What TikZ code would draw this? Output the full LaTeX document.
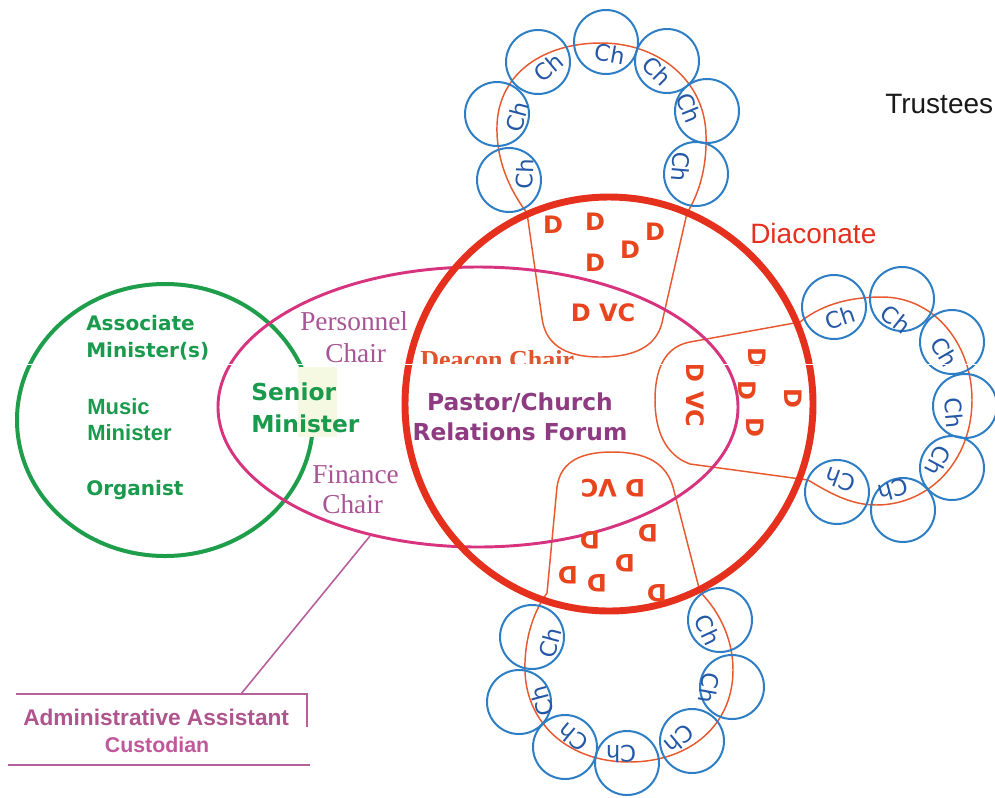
\documentclass[tikz,border=0pt]{standalone}
\usepackage{fontspec}
\newfontfamily\dvs{DejaVu Sans}
\newfontfamily\lsans{Liberation Sans}
\newfontfamily\lserif{Liberation Serif}
\definecolor{bigred}{HTML}{E6301E}
\definecolor{lobecol}{HTML}{E8582E}
\definecolor{dcol}{HTML}{E8441E}
\definecolor{chblue}{HTML}{2E7EC6}
\definecolor{chtext}{HTML}{2457A5}
\definecolor{grn}{HTML}{1E9E4A}
\definecolor{grntxt}{HTML}{1A9A4C}
\definecolor{mag}{HTML}{D8337E}
\definecolor{purp}{HTML}{8E3B82}
\definecolor{perstxt}{HTML}{A85595}
\definecolor{deacontxt}{HTML}{E0542E}
\definecolor{admtxt}{HTML}{B0548E}
\definecolor{custtxt}{HTML}{C0589C}
\definecolor{admln}{HTML}{B8609C}
\definecolor{pale}{HTML}{F5F9E1}
\begin{document}
\begin{tikzpicture}[x=0.75pt,y=-0.75pt,
  lobe/.style={draw=lobecol, line width=1.1pt},
  chring/.style={draw=chblue, line width=1.5pt},
  chtxt/.style={text=chtext, font=\dvs\fontsize{17}{17}\selectfont, inner sep=0pt},
  dtxt/.style={text=dcol, font=\dvs\bfseries\fontsize{18}{18}\selectfont, inner sep=0pt},
  grnV/.style={text=grntxt, font=\dvs\bfseries\fontsize{15}{15}\selectfont, inner sep=0pt, anchor=base west},
  grnA/.style={text=grntxt, font=\lsans\bfseries\fontsize{16.5}{16.5}\selectfont, inner sep=0pt, anchor=base west},
  senior/.style={text=grntxt, font=\dvs\bfseries\fontsize{17.5}{17.5}\selectfont, inner sep=0pt, anchor=base west},
  pers/.style={text=perstxt, font=\lserif\fontsize{20.5}{20.5}\selectfont, inner sep=0pt, anchor=base west},
  forum/.style={text=purp, font=\dvs\bfseries\fontsize{17.5}{17.5}\selectfont, inner sep=0pt, anchor=base},
  admline/.style={draw=admln, line width=1.2pt}
]
\useasboundingbox (0,0) rectangle (995,797);
\fill[white] (0,0) rectangle (995,797);

% lobes and rings of the three deacon groups
\draw[lobe] (600,357) .. controls (562,357) and (545,342) .. (542,318) -- (527,213)
  .. controls (506,185) and (496,155) .. (497,125)
  .. controls (499,72) and (545,43) .. (601,43)
  .. controls (660,43) and (705,82) .. (706,135)
  .. controls (707,170) and (698,195) .. (687,213) -- (663,318)
  .. controls (659,343) and (640,357) .. (600,357) -- cycle;
\draw[lobe] (690,342) -- (800,322) .. controls (825,302) and (855,297) .. (882,297)
  .. controls (935,297) and (972,345) .. (972,400)
  .. controls (972,460) and (930,505) .. (876,505)
  .. controls (850,505) and (828,492) .. (808,480) -- (690,464)
  .. controls (665,455) and (655,430) .. (655,400)
  .. controls (655,372) and (663,347) .. (690,342) -- cycle;
\draw[lobe] (612,452) .. controls (576,452) and (560,465) .. (557,487) -- (547,593)
  .. controls (531,615) and (524,645) .. (525,672)
  .. controls (527,725) and (570,762) .. (629,762)
  .. controls (690,762) and (733,725) .. (733,670)
  .. controls (733,640) and (720,612) .. (700,592) -- (673,487)
  .. controls (666,463) and (646,452) .. (612,452) -- cycle;

% Ch circles
\foreach \cx/\cy/\tx/\ty/\r [count=\i] in {
  606/42/610/54/-10, 538/62/549/67/40, 497/114/517/117/75, 509/180/525/174/88,
  667/61/657/71/-45, 707/111/689/108/-68, 696/174/681/167/-95,
  834/307/840/318/18, 902/299/896/319/-38, 952/342/944/352/-60, 965/406/954/413/-85,
  952/468/938/461/-118, 903/510/893/490/-165, 837/492/840/480/160,
  532/637/550/643/75, 519/702/542/701/105, 565/747/573/737/140, 627/763/621/754/180,
  692/741/679/739/-140, 732/687/709/688/-100, 720/620/708/630/-65} {
  \draw[chring] (\cx,\cy) circle [radius=32];
  \node[chtxt, rotate=\r] (ch\i) at (\tx,\ty) {Ch};
}

% green and magenta rings
\draw[grn, line width=3pt] (165,420) ellipse [x radius=148, y radius=136];
\draw[mag, line width=2.2pt] (478,407) ellipse [x radius=260, y radius=140];
\fill[pale] (298,367) rectangle (337,437);

\node[pers] (pers1) at (300,330) {Personnel};
\node[pers] (pers2) at (325,362) {Chair};

% big red circle
\draw[bigred, line width=5.2pt] (609,404) ellipse [x radius=204, y radius=207];

% D texts
\foreach \x/\y [count=\i] in {553/225, 595/222, 655/232, 630/250, 595/263}
  \node[dtxt] (dt\i) at (\x,\y) {D};
\node[dtxt] (dvct) at (603,313) {D VC};
\foreach \x/\y [count=\i] in {757/357, 747/390, 755/427, 793/398}
  \node[dtxt, rotate=-90] (dr\i) at (\x,\y) {D};
\node[dtxt, rotate=-90] (dvcr) at (695,395) {D VC};
\foreach \x/\y [count=\i] in {590/540, 648/533, 625/563, 568/575, 597/583, 657/593}
  \node[dtxt, rotate=180] (db\i) at (\x,\y) {D};
\node[dtxt, rotate=180] (dvcb) at (613,488) {D VC};

% left texts
\node[grnV] (assoc1) at (86,330) {Associate};
\node[grnV] (assoc2) at (86,357) {Minister(s)};
\node[grnA] (music1) at (87,414) {Music};
\node[grnA] (music2) at (87,440) {Minister};
\node[grnV] (organ) at (86,495) {Organist};
\node[senior] (sen1) at (251,400) {Senior};
\node[senior] (sen2) at (251,432) {Minister};
\node[pers] (fin1) at (312,483) {Finance};
\node[pers] (fin2) at (322,513) {Chair};

\begin{scope}
  \clip (400,330) rectangle (600,363);
  \node[text=deacontxt, font=\lserif\bfseries\fontsize{19.5}{19.5}\selectfont, inner sep=0pt, anchor=base west] (deacon) at (420,368) {Deacon Chair};
\end{scope}

\node[forum] (forum1) at (520,410) {Pastor/Church};
\node[forum] (forum2) at (520,440) {Relations Forum};

\node[text=bigred, font=\lsans\fontsize{21}{21}\selectfont, inner sep=0pt, anchor=base west] (diac) at (750,243) {Diaconate};
\node[text=black!90, font=\lsans\fontsize{21}{21}\selectfont, inner sep=0pt, anchor=base west] (trust) at (885,113) {Trustees};

% administrative box
\coordinate (eA) at (370,536);
\coordinate (bA) at (241,694);
\coordinate (bL) at (16,694);
\coordinate (bR) at (307,694);
\coordinate (bRd) at (307,727);
\coordinate (uL) at (8,765);
\coordinate (uR) at (310,765);
\draw[admline] (eA) -- (bA);
\draw[admline] (bL) -- (bR) -- (bRd);
\draw[admline] (uL) -- (uR);
\node[text=admtxt, font=\lsans\bfseries\fontsize{17}{17}\selectfont, inner sep=0pt, anchor=base west] (admin) at (23,725) {Administrative Assistant};
\node[text=custtxt, font=\lsans\bfseries\fontsize{16}{16}\selectfont, inner sep=0pt, anchor=base] (cust) at (157,752) {Custodian};

% scan artefact line
\draw[white, line width=1.3pt] (0,364.5) -- (995,364.5);
\end{tikzpicture}
\end{document}
